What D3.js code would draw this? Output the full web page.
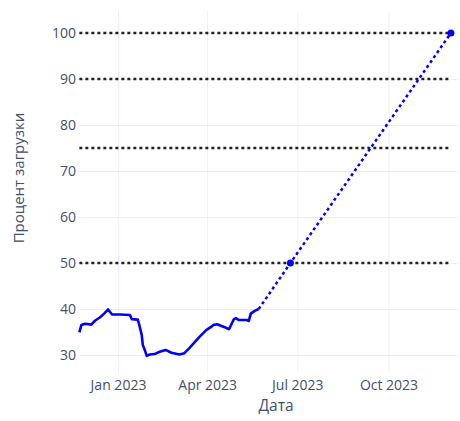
<!DOCTYPE html>
<html>
<head>
<meta charset="utf-8">
<script src="https://cdn.jsdelivr.net/npm/d3@7"></script>
<style>
  html, body { margin: 0; padding: 0; background: #fff; }
  svg { display: block; font-family: "Open Sans", "DejaVu Sans", sans-serif; }
</style>
</head>
<body>
<svg id="chart" width="460" height="421"></svg>
<script>
// ---- data ----
const dates = ["2022-11-23","2022-11-25","2022-11-29","2022-12-05","2022-12-09","2022-12-14","2022-12-18","2022-12-22","2022-12-26","2023-01-03","2023-01-13","2023-01-15","2023-01-21","2023-01-23","2023-01-25","2023-01-26","2023-01-28","2023-01-30","2023-02-02","2023-02-07","2023-02-12","2023-02-18","2023-02-24","2023-03-04","2023-03-09","2023-03-14","2023-03-24","2023-03-31","2023-04-05","2023-04-07","2023-04-11","2023-04-18","2023-04-23","2023-04-28","2023-04-30","2023-05-03","2023-05-11","2023-05-13","2023-05-15","2023-05-19","2023-05-23"];
const values = [34.9,36.5,36.8,36.6,37.5,38.2,39.0,39.9,38.8,38.8,38.7,37.8,37.7,36.1,34.3,32.2,31.1,29.8,30.1,30.2,30.7,31.1,30.5,30.1,30.4,31.5,33.9,35.4,36.1,36.5,36.7,36.1,35.6,37.8,38.0,37.6,37.6,37.4,39.0,39.6,40.0];
const projDates = ["2023-05-23","2023-06-24","2023-12-03"];
const projValues = [40, 50, 100];
const markerDates = ["2023-06-24","2023-12-03"];
const markerValues = [50, 100];
const thresholds = [100, 90, 75, 50];
const yTicks = [30, 40, 50, 60, 70, 80, 90, 100];
const xTitle = "Дата";
const yTitle = "Процент загрузки";

// ---- drawing ----
const parse = d3.utcParse("%Y-%m-%d");
const svg = d3.select("#chart");
const plot = { left: 78, right: 458, top: 11, bottom: 373 };

// calibrate: Jan 1 2023 -> 118px, Oct 1 2023 -> 388.5px
const xCal = d3.scaleUtc()
  .domain([parse("2023-01-01"), parse("2023-10-01")])
  .range([118, 388.5]);
const x = d3.scaleUtc()
  .domain([xCal.invert(plot.left), xCal.invert(plot.right)])
  .range([plot.left, plot.right]);

// calibrate: 30 -> 355px, 100 -> 33px
const yCal = d3.scaleLinear().domain([30, 100]).range([355, 33]);
const y = d3.scaleLinear()
  .domain([yCal.invert(plot.bottom), yCal.invert(plot.top)])
  .range([plot.bottom, plot.top]);

const gridColor = "#ebf0f8";
const textColor = "#3f506c";

// x grid + ticks
const xAxis = d3.axisBottom(x)
  .ticks(d3.utcMonth.every(3))
  .tickFormat(d3.utcFormat("%b %Y"))
  .tickSize(0).tickPadding(0);
const xg = svg.append("g").attr("transform", `translate(0,${plot.bottom})`).call(xAxis);
xg.select(".domain").remove();
xg.selectAll(".tick line").remove();
xg.selectAll(".tick").insert("line", "text")
  .attr("y1", 0).attr("y2", plot.top - plot.bottom)
  .attr("stroke", gridColor).attr("stroke-width", 1);
xg.selectAll(".tick text")
  .attr("y", 17).attr("dy", 0)
  .attr("fill", textColor).attr("font-size", 14)
  .attr("font-family", "'Open Sans', sans-serif");

// y grid + ticks
const yAxis = d3.axisLeft(y).tickValues(yTicks).tickSize(0).tickPadding(2);
const yg = svg.append("g").attr("transform", `translate(${plot.left},0)`).call(yAxis);
yg.select(".domain").remove();
yg.selectAll(".tick line").remove();
yg.selectAll(".tick").insert("line", "text")
  .attr("x1", 0).attr("x2", plot.right - plot.left)
  .attr("stroke", gridColor).attr("stroke-width", 1);
yg.selectAll(".tick text")
  .attr("fill", textColor).attr("font-size", 14)
  .attr("font-family", "'Open Sans', sans-serif");

// threshold lines
const firstDate = parse(dates[0]);
const lastDate = parse(projDates[projDates.length - 1]);
svg.append("g").selectAll("line").data(thresholds).join("line")
  .attr("x1", x(firstDate)).attr("x2", x(lastDate))
  .attr("y1", d => y(d)).attr("y2", d => y(d))
  .attr("stroke", "#222").attr("stroke-width", 2.5)
  .attr("stroke-dasharray", "3,3");

// actual line
const pts = dates.map((d, i) => [parse(d), values[i]]);
const line = d3.line().x(d => x(d[0])).y(d => y(d[1]));
svg.append("path").datum(pts)
  .attr("fill", "none").attr("stroke", "#0000ff")
  .attr("stroke-width", 2.6).attr("stroke-linejoin", "round")
  .attr("d", line);

// projection
const proj = projDates.map((d, i) => [parse(d), projValues[i]]);
svg.append("path").datum(proj)
  .attr("fill", "none").attr("stroke", "#0000ff")
  .attr("stroke-width", 2.5).attr("stroke-dasharray", "3,3")
  .attr("d", line);

svg.append("g").selectAll("circle").data(markerDates.map((d, i) => [parse(d), markerValues[i]])).join("circle")
  .attr("cx", d => x(d[0])).attr("cy", d => y(d[1])).attr("r", 3.5)
  .attr("fill", "#0000ff");

// titles
svg.append("text")
  .attr("x", 276).attr("y", 411)
  .attr("text-anchor", "middle")
  .attr("fill", textColor).attr("font-size", 15.5)
  .attr("font-family", "'Open Sans', sans-serif")
  .text(xTitle);

svg.append("text")
  .attr("transform", "translate(24,178) rotate(-90)")
  .attr("text-anchor", "middle")
  .attr("fill", textColor).attr("font-size", 15)
  .attr("font-family", "'Open Sans', sans-serif")
  .text(yTitle);
</script>
</body>
</html>
